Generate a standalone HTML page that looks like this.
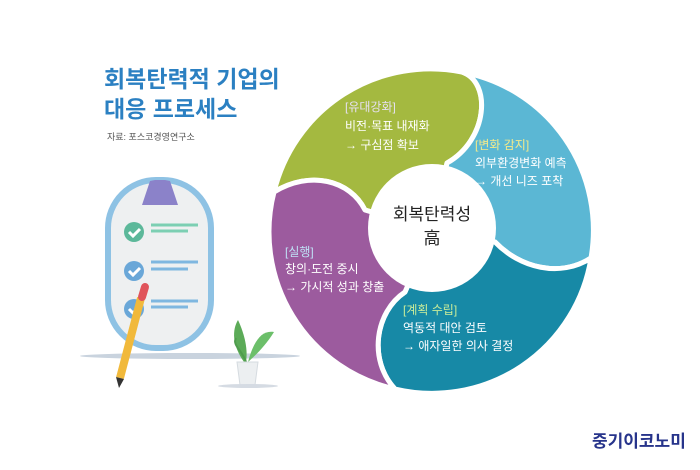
<!DOCTYPE html>
<html><head><meta charset="utf-8"><style>
body{margin:0;background:#fff;}
svg{display:block}
text{font-family:"Liberation Sans","Noto Sans CJK KR",sans-serif;}
</style></head><body>
<svg width="700" height="470" viewBox="0 0 700 470" xmlns="http://www.w3.org/2000/svg">
<rect width="700" height="470" fill="#fff"/>
<text x="104" y="87" font-size="23" font-weight="bold" fill="#2b80c2">회복탄력적 기업의</text>
<text x="104" y="117" font-size="23" font-weight="bold" fill="#2b80c2">대응 프로세스</text>
<text x="107" y="140" font-size="9" fill="#555">자료: 포스코경영연구소</text>

<!-- shadow -->
<ellipse cx="190" cy="356" rx="110" ry="3" fill="#c9d3de"/>
<!-- clipboard -->
<rect x="108" y="180" width="103" height="168" rx="48" fill="#eef0f1" stroke="#8ec2e4" stroke-width="6"/>
<path d="M150,181 L155,180 L165,180 L170,181 L178,205 L142,205 Z" fill="#8b82c9"/>
<circle cx="134" cy="232" r="10" fill="#5cb89a"/>
<circle cx="134" cy="271" r="10" fill="#6aa7d8"/>
<circle cx="134" cy="309" r="10" fill="#6aa7d8"/>
<path d="M129,232 l4,4 l7,-7 M129,271 l4,4 l7,-7 M129,309 l4,4 l7,-7" stroke="#fff" stroke-width="3" fill="none"/>
<path d="M151,225 H198 M151,231 H188" stroke="#7ccfb3" stroke-width="3"/>
<path d="M151,262 H198 M151,269 H188 M151,301 H198 M151,307 H188" stroke="#7fb7e0" stroke-width="3"/>
<!-- pencil -->
<line x1="141" y1="298" x2="120" y2="378" stroke="#f1b93b" stroke-width="8"/>
<line x1="142" y1="297" x2="145" y2="287" stroke="#e0545b" stroke-width="8" stroke-linecap="round"/>
<path d="M116,377 L124,379 L119,388 Z" fill="#333"/>
<!-- plant -->
<path d="M244,362 C232,345 232,330 238,320 C245,335 248,350 246,362 Z" fill="#5cab58"/>
<path d="M248,362 C254,340 262,330 274,332 C266,345 256,355 248,362 Z" fill="#6cbf6a"/>
<path d="M246,362 C242,350 232,345 236,338" stroke="#4f9c4d" fill="none" stroke-width="2"/>
<path d="M237,362 H258 L255,385 H240 Z" fill="#eceff1" stroke="#d5dbe0"/>
<ellipse cx="248" cy="386" rx="30" ry="2" fill="#d5dbe3"/>

<!-- ring -->
<g stroke="#fff" stroke-width="5" stroke-linejoin="round">
<path d="M274,192 A161,161 0 0 1 462,72 C492,82 488,140 447,163 L432,230 L365,210 C350,180 310,170 274,192 Z" fill="#a4b940"/>
<path d="M462,72 A161,161 0 0 1 591,258 C560,278 520,268 495,242 L432,230 L447,163 C488,140 492,82 462,72 Z" fill="#5bb7d4"/>
<path d="M591,258 A161,161 0 0 1 395,389 C368,360 375,312 405,292 L432,230 L495,242 C520,268 560,278 591,258 Z" fill="#1789a6"/>
<path d="M395,389 A161,161 0 0 1 274,192 C310,170 350,180 365,210 L432,230 L405,292 C375,312 368,360 395,389 Z" fill="#9c5b9e"/>
</g>
<circle cx="432" cy="228" r="64" fill="#fff"/>
<text x="432" y="220" font-size="17" text-anchor="middle" fill="#222">회복탄력성</text>
<text x="432" y="244" font-size="17" text-anchor="middle" fill="#222">高</text>

<g font-size="12" fill="#fff">
<text x="345" y="111" fill="#e6e0f0">[유대강화]</text>
<text x="345" y="130">비전·목표 내재화</text>
<text x="345" y="149">→ 구심점 확보</text>
<text x="475" y="149" fill="#f3ea8a">[변화 감지]</text>
<text x="475" y="167">외부환경변화 예측</text>
<text x="475" y="185">→ 개선 니즈 포착</text>
<text x="285" y="256" fill="#bfe0f5">[실행]</text>
<text x="285" y="273">창의·도전 중시</text>
<text x="285" y="291">→ 가시적 성과 창출</text>
<text x="403" y="314" fill="#c8ec9a">[계획 수립]</text>
<text x="403" y="332">역동적 대안 검토</text>
<text x="403" y="350">→ 애자일한 의사 결정</text>
</g>
<text x="592" y="447" font-size="17" font-weight="bold" fill="#27348b">중기이코노미</text>
</svg>
</body></html>
